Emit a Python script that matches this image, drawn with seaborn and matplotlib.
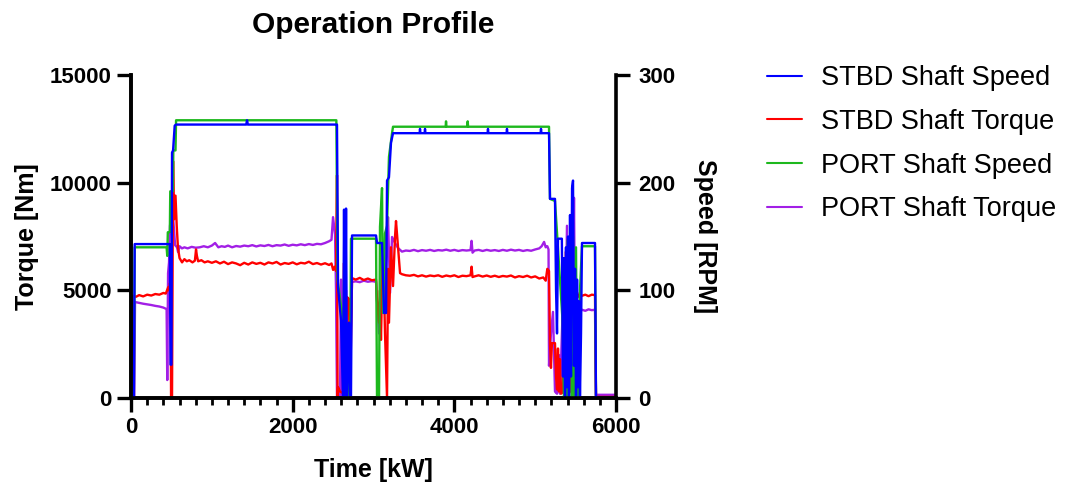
import matplotlib
matplotlib.use("Agg")
import matplotlib.pyplot as plt
from matplotlib.ticker import MultipleLocator
from matplotlib.lines import Line2D
import seaborn as sns
import pandas as pd

# ---------------- data ----------------
stbd_speed_t = [0, 35, 45, 480, 488, 500, 507, 520, 540, 557, 1425, 1435, 1445,
                2536, 2548, 2561, 2598, 2622, 2635, 2647, 2660, 2672, 2697, 2709, 2721,
                2734, 3031, 3043, 3105, 3130, 3155, 3167, 3191, 3216, 3241, 3570, 3575,
                3580, 3632, 3637, 3642, 4411, 4416, 4421, 4646, 4651, 4656, 5067, 5072,
                5077, 5171, 5183, 5245, 5258, 5270, 5282, 5330, 5344, 5356, 5369, 5381,
                5393, 5406, 5418, 5431, 5443, 5456, 5468, 5480, 5493, 5505, 5518, 5530,
                5542, 5554, 5567, 5579, 5740, 5752, 6000]
stbd_speed_v = [0, 0, 143, 143, 31, 31, 228, 230, 253, 254, 254, 258, 254,
                254, 254, 103, 72, 0, 175, 0, 176, 0, 70, 0, 0,
                151, 151, 144, 144, 79, 79, 202, 205, 237, 246, 246, 250,
                246, 246, 250, 246, 246, 250, 246, 246, 250, 246, 246, 250,
                246, 246, 185, 185, 100, 60, 148, 148, 20, 130, 0, 140,
                10, 150, 0, 170, 20, 195, 202, 30, 120, 0, 110, 10,
                90, 0, 60, 144, 144, 0, 0]

port_speed_t = [0, 35, 45, 440, 448, 455, 480, 485, 518, 523, 550, 557, 2540, 2555,
                2598, 2622, 2635, 2660, 2672, 2685, 2709, 2721, 3031, 3043, 3068, 3080,
                3105, 3117, 3142, 3167, 3191, 3229, 3241, 3892, 3897, 3902, 4160, 4165,
                4170, 5171, 5183, 5245, 5340, 5356, 5393, 5405, 5418, 5450, 5468, 5480,
                5505, 5518, 5542, 5554, 5579, 5740, 5752, 6000]
port_speed_v = [0, 0, 140, 140, 132, 154, 154, 192, 192, 230, 230, 258, 258, 110,
                85, 70, 0, 0, 60, 0, 0, 148, 148, 0, 0, 159,
                195, 79, 153, 160, 224, 246, 252, 252, 257, 252, 252, 257,
                252, 252, 185, 183, 70, 0, 0, 147, 0, 0, 150, 0,
                140, 0, 0, 100, 141, 141, 0, 0]

stbd_torque_t = [0, 20, 25, 60, 100, 150, 200, 250, 300, 350, 400, 430, 445, 460, 470,
                 482, 490, 495, 507, 520, 532, 550, 565, 580, 600, 631, 660, 690, 720,
                 760, 790, 804, 815, 830, 870, 910, 950, 1000, 1050, 1100, 1150, 1200,
                 1250, 1300, 1350, 1400, 1450, 1500, 1550, 1600, 1650, 1700, 1750, 1800,
                 1850, 1900, 1950, 2000, 2050, 2100, 2150, 2200, 2250, 2300, 2350, 2400,
                 2450, 2480, 2500, 2520, 2536, 2548, 2555, 2561, 2585, 2622, 2635, 2647,
                 2672, 2697, 2709, 2734, 2780, 2830, 2880, 2930, 2980, 3031, 3043, 3068,
                 3080, 3092, 3117, 3142, 3167, 3179, 3191, 3216, 3241, 3266, 3278, 3303,
                 3328, 3352, 3400, 3450, 3500, 3550, 3600, 3650, 3700, 3750, 3800, 3850,
                 3900, 3950, 4000, 4050, 4100, 4150, 4200, 4213, 4225, 4250, 4300, 4350,
                 4400, 4450, 4500, 4550, 4600, 4650, 4700, 4750, 4800, 4850, 4900, 4950,
                 5000, 5050, 5100, 5130, 5150, 5171, 5183, 5195, 5207, 5245, 5258, 5270,
                 5282, 5294, 5307, 5320, 5344, 5356, 5369, 5381, 5393, 5406, 5418, 5431,
                 5443, 5456, 5468, 5480, 5493, 5505, 5518, 5530, 5554, 5579, 5620, 5660,
                 5700, 5740, 5752, 6000]
stbd_torque_v = [0, 0, 4750, 4700, 4780, 4720, 4800, 4760, 4830, 4800, 4880, 4850, 5000, 5150, 5000,
                 5340, 5100, 0, 0, 11000, 8300, 9400, 8000, 7000, 6500, 6300, 6450, 6350, 6400,
                 6300, 6380, 6900, 6600, 6350, 6400, 6300, 6350, 6280, 6350, 6250, 6330, 6220,
                 6300, 6250, 6170, 6280, 6200, 6300, 6230, 6280, 6200, 6300, 6250, 6320,
                 6200, 6270, 6230, 6300, 6210, 6280, 6250, 6330, 6220, 6270, 6200, 6260,
                 6180, 6250, 5950, 6100, 5900, 10350, 0, 500, 300, 230, 6270, 0,
                 4690, 4600, 0, 5570, 5500, 5580, 5480, 5550, 5470, 5500, 4550, 3500,
                 5000, 2700, 7200, 3000, 0, 6000, 3500, 7000, 5200, 7500, 8220, 7000,
                 5800, 5750, 5700, 5680, 5720, 5650, 5700, 5640, 5690, 5660, 5700, 5630,
                 5690, 5650, 5700, 5620, 5680, 5660, 5700, 6100, 5620, 5650, 5700, 5640,
                 5690, 5630, 5680, 5620, 5670, 5640, 5690, 5600, 5660, 5620, 5680, 5600,
                 5650, 5550, 5600, 5450, 6000, 5900, 2550, 1400, 2550, 2550, 1000, 400,
                 2300, 300, 1800, 200, 300, 4300, 100, 6800, 0, 7000, 200, 7300,
                 300, 7340, 1000, 5000, 200, 4000, 4900, 4700, 4800, 4750, 4800, 4730,
                 4800, 4780, 50, 50]

port_torque_t = [0, 40, 49, 100, 150, 200, 250, 300, 350, 400, 440, 448, 458, 470, 482,
                 495, 507, 520, 545, 569, 582, 600, 630, 660, 700, 750, 800, 850, 900,
                 950, 1000, 1040, 1080, 1120, 1160, 1200, 1250, 1300, 1350, 1400, 1450,
                 1500, 1550, 1600, 1650, 1700, 1750, 1800, 1850, 1900, 1950, 2000, 2050,
                 2100, 2150, 2200, 2250, 2300, 2350, 2400, 2450, 2480, 2499, 2524, 2536,
                 2548, 2585, 2598, 2610, 2635, 2660, 2672, 2697, 2734, 2780, 2830, 2880,
                 2930, 2980, 3031, 3043, 3068, 3092, 3117, 3142, 3167, 3179, 3204, 3229,
                 3266, 3303, 3352, 3400, 3450, 3500, 3550, 3600, 3650, 3700, 3750, 3800,
                 3850, 3900, 3950, 4000, 4050, 4100, 4150, 4200, 4213, 4225, 4250, 4300,
                 4350, 4400, 4450, 4500, 4550, 4600, 4650, 4700, 4750, 4800, 4850, 4900,
                 4950, 5000, 5050, 5080, 5110, 5130, 5150, 5165, 5171, 5195, 5220, 5233,
                 5245, 5270, 5294, 5307, 5356, 5369, 5393, 5406, 5443, 5468, 5480, 5493,
                 5505, 5518, 5554, 5579, 5620, 5660, 5700, 5740, 5752, 6000]
port_torque_v = [0, 0, 4460, 4420, 4380, 4350, 4320, 4280, 4250, 4200, 4130, 836, 5800, 6300, 8000,
                 8400, 7600, 8400, 7100, 7000, 6780, 7050, 6950, 7000, 6950, 7020, 6980, 7000, 7050,
                 7000, 7080, 7200, 7000, 7050, 7020, 7080, 7000, 7060, 7030, 7080, 7050,
                 7100, 7040, 7090, 7060, 7110, 7050, 7100, 7080, 7130, 7070, 7120, 7090,
                 7140, 7100, 7150, 7110, 7160, 7140, 7200, 7280, 7350, 8400, 7600, 5000,
                 0, 0, 5500, 0, 0, 5000, 0, 0, 5390, 5420, 5380, 5450,
                 5400, 5430, 5400, 4500, 3000, 5000, 6500, 4500, 7000, 8400, 4880, 7480,
                 7200, 6966, 6800, 6850, 6830, 6880, 6820, 6870, 6840, 6880, 6830, 6870,
                 6850, 6890, 6840, 6880, 6830, 6870, 6850, 6870, 7300, 6750, 6850, 6880,
                 6830, 6880, 6840, 6870, 6830, 6880, 6840, 6890, 6850, 6880, 6830, 6870,
                 6840, 6900, 6950, 7050, 7250, 7000, 7050, 6900, 1500, 3000, 4000, 2000,
                 300, 200, 2000, 200, 6000, 400, 8000, 1000, 6000, 4000, 9300, 3000,
                 5000, 4100, 4000, 4100, 4050, 4120, 4080, 4100, 150, 150]

labels = ["STBD Shaft Speed", "STBD Shaft Torque", "PORT Shaft Speed", "PORT Shaft Torque"]
colors = ["#0000ff", "#ff0000", "#1db81d", "#a21fe6"]
x_ticks = [0, 2000, 4000, 6000]
torque_ticks = [0, 5000, 10000, 15000]
speed_ticks = [0, 100, 200, 300]

# ---------------- style ----------------
sns.set_style("ticks")
plt.rcParams["font.family"] = ["Liberation Sans", "DejaVu Sans"]
for key in ["text.color", "axes.labelcolor", "xtick.color", "ytick.color", "axes.edgecolor"]:
    plt.rcParams[key] = "black"

fig = plt.figure(figsize=(10.68, 4.86), dpi=100)
ax = fig.add_axes([0.1227, 0.181, 0.4541, 0.6646])
ax2 = ax.twinx()

lw = 1.7
df_pt = pd.DataFrame({"t": port_torque_t, "v": port_torque_v})
df_st = pd.DataFrame({"t": stbd_torque_t, "v": stbd_torque_v})
df_ps = pd.DataFrame({"t": port_speed_t, "v": port_speed_v})
df_ss = pd.DataFrame({"t": stbd_speed_t, "v": stbd_speed_v})

sns.lineplot(data=df_pt, x="t", y="v", ax=ax, color=colors[3], lw=lw, estimator=None, sort=False)
sns.lineplot(data=df_st, x="t", y="v", ax=ax, color=colors[1], lw=lw, estimator=None, sort=False)
sns.lineplot(data=df_ps, x="t", y="v", ax=ax2, color=colors[2], lw=lw, estimator=None, sort=False)
sns.lineplot(data=df_ss, x="t", y="v", ax=ax2, color=colors[0], lw=lw, estimator=None, sort=False)

ax.set_xlim(0, 6000)
ax.set_ylim(0, 15000)
ax2.set_ylim(0, 300)
ax.set_xticks(x_ticks)
ax.set_yticks(torque_ticks)
ax2.set_yticks(speed_ticks)
ax.xaxis.set_minor_locator(MultipleLocator(200))

for a in (ax, ax2):
    a.spines["top"].set_visible(False)
    for s in a.spines.values():
        s.set_linewidth(2.6)
        s.set_color("black")
ax.spines["right"].set_visible(False)

ax.tick_params(axis="both", which="major", direction="out", length=10, width=2.4, pad=4, colors="black")
ax.tick_params(axis="x", which="minor", direction="out", length=5, width=2.0, colors="black")
ax2.tick_params(axis="y", which="major", direction="out", length=10, width=2.4, pad=6, colors="black")
for lab in ax.get_xticklabels() + ax.get_yticklabels() + ax2.get_yticklabels():
    lab.set_fontsize(16)
    lab.set_fontweight("bold")

ax.set_xlabel("Time [kW]", fontsize=18, fontweight="bold", labelpad=14)
ax.set_ylabel("Torque [Nm]", fontsize=18, fontweight="bold", labelpad=8)
ax2.set_ylabel("Speed [RPM]", fontsize=18, fontweight="bold", rotation=270, labelpad=30)
ax.set_title("Operation Profile", fontsize=21.5, fontweight="bold", pad=30)

handles = [Line2D([0], [0], color=c, lw=1.5) for c in colors]
fig.legend(handles, labels, loc="upper left", bbox_to_anchor=(0.718, 0.866),
           frameon=False, fontsize=19.5, handlelength=1.3, handletextpad=0.7,
           labelspacing=0.655, borderpad=0, borderaxespad=0)

fig.savefig("out.png", dpi=100)
